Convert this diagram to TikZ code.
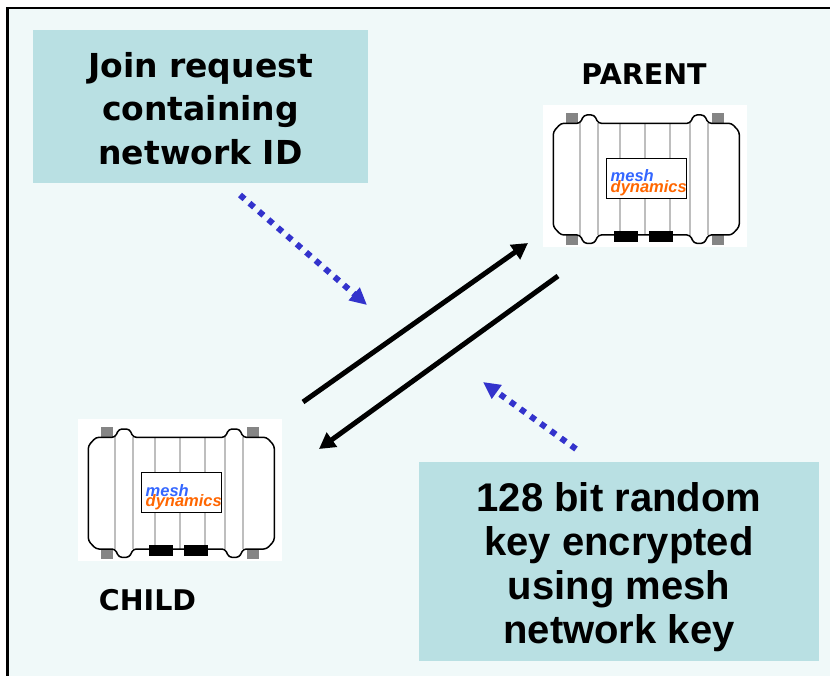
\documentclass[tikz,border=0pt]{standalone}
\usepackage{fontspec}
\setmainfont{Liberation Sans}
\newfontfamily\verafont{DejaVu Sans}
\usetikzlibrary{arrows.meta}

\definecolor{panelbg}{HTML}{F0F9F9}
\definecolor{notefill}{HTML}{B9E0E3}
\definecolor{dotblue}{HTML}{3333CC}
\definecolor{meshblue}{HTML}{3366FF}
\definecolor{meshorange}{HTML}{FF6600}
\definecolor{ribgrey}{HTML}{BEBEBE}
\definecolor{tabgrey}{HTML}{858585}

\tikzset{
  notebox/.style={fill=notefill, draw=none, inner sep=0pt},
  jointext/.style={font=\verafont\bfseries\fontsize{33}{43.5}\selectfont, align=center, inner sep=0pt},
  keytext/.style={font=\bfseries\fontsize{40}{44}\selectfont, align=center, inner sep=0pt},
  unitlabel/.style={font=\verafont\bfseries\fontsize{28.5}{30}\selectfont, inner sep=0pt, anchor=base},
  meshword/.style={font=\bfseries\itshape\fontsize{16.5}{17}\selectfont, inner sep=0pt, anchor=base west},
  flow/.style={line width=5pt, -{Triangle[length=16pt,width=17pt]}},
  hint/.style={dotblue, line width=6pt, dash pattern=on 6pt off 6.5pt,
    -{Triangle[length=17pt,width=16pt]}},
  % mesh node hardware: ribbed housing with end caps, antenna tabs and ports
  device/.pic={
    \fill[white] (3,5) rectangle (207,147);
    \foreach \xx in {40,58.3,80,105,130,150,168.3}
      \draw[ribgrey, line width=2pt] (\xx,23.3) -- (\xx,135);
    \fill[tabgrey] (25.5,13) rectangle (37.5,23.3);
    \fill[tabgrey] (171.5,13) rectangle (183.5,23.3);
    \fill[tabgrey] (25.5,135) rectangle (37.5,145);
    \fill[tabgrey] (171.5,135) rectangle (183.5,145);
    \draw[line width=1.5pt, rounded corners=3pt]
      (13.3,79) -- (13.3,31.7) -- (21,23.3) -- (40,23.3) -- (44,15) -- (54.3,15)
      -- (58.3,23.3) -- (150,23.3) -- (154,15) -- (164.3,15) -- (168.3,23.3)
      -- (191.6,23.3) -- (199.3,31.7) -- (199.3,126.7) -- (191.6,135)
      -- (168.3,135) -- (164.3,143.3) -- (154,143.3) -- (150,135)
      -- (58.3,135) -- (54.3,143.3) -- (44,143.3) -- (40,135)
      -- (21,135) -- (13.3,126.7) -- cycle;
    \fill (74,131) rectangle (98,142);
    \fill (109,131) rectangle (133,142);
    \draw[line width=1.5pt, fill=white] (66.7,58.3) rectangle (146.7,98.3);
    \node[meshword, text=meshblue] (-mesh) at (70.5,82) {mesh};
    \node[meshword, text=meshorange] (-dyn) at (70.5,92.5) {dynamics};
  }
}

\begin{document}
\begin{tikzpicture}[x=1pt, y=-1pt]
  \useasboundingbox (0,0) rectangle (830,676);

  % panel background and frame
  \fill[panelbg] (7.5,8) rectangle (830,676);
  \draw[line width=2.5pt] (7.5,676) -- (7.5,8) -- (830,8);

  % call-out boxes
  \node[notebox, minimum width=335pt, minimum height=153pt] (joinbox) at (200.5,106.5) {};
  \node[jointext] (jointxt) at (200.5,108.5) {Join request\\containing\\network ID};

  \node[notebox, minimum width=400pt, minimum height=199pt] (keybox) at (619,561.5) {};
  \node[keytext] (keytxt) at (619,566.7) {128 bit random\\key encrypted\\using mesh\\network key};

  % hardware units
  \pic (parent) at (540,100) {device};
  \pic (child) at (75,414) {device};
  \node[unitlabel] (parentlbl) at (644,85) {PARENT};
  \node[unitlabel] (childlbl) at (147.5,610) {CHILD};

  % message exchange
  \coordinate (upstart) at (303,402);
  \coordinate (upend) at (528,243);
  \coordinate (downstart) at (558,276);
  \coordinate (downend) at (319,449);
  \draw[flow] (upstart) -- (upend);
  \draw[flow] (downstart) -- (downend);

  % pointers from the call-outs
  \coordinate (joinptr) at (240,195);
  \coordinate (joinhit) at (367,305);
  \coordinate (keyptr) at (576,449);
  \coordinate (keyhit) at (483,382);
  \draw[hint] (joinptr) -- (joinhit);
  \draw[hint] (keyptr) -- (keyhit);
\end{tikzpicture}
\end{document}
